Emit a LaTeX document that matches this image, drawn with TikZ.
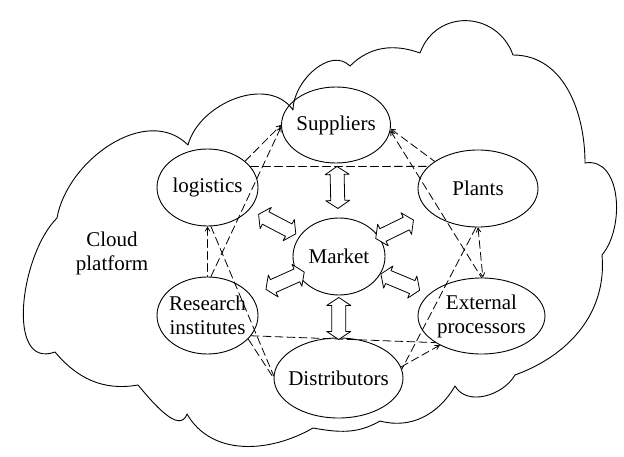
\documentclass[tikz,border=0pt]{standalone}
\usepackage{fontspec}
\setmainfont{Liberation Serif}
\usetikzlibrary{arrows}
\usetikzlibrary{positioning}
\usetikzlibrary{shapes.geometric}
\begin{document}
\begin{tikzpicture}[line cap=round,line join=round,>=angle 60,x=1pt,y=1pt,
  actor/.style={draw,ellipse,line width=0.9pt,inner sep=-8pt,align=center,font=\fontsize{21}{24}\selectfont},
  link/.style={line width=0.8pt,dash pattern=on 8pt off 4pt},
  dblarrow/.pic={\draw [line width=0.8pt,fill=white] (-21,0) -- (-13,12) -- (-13,7) -- (13,7) -- (13,12) -- (21,0)
    -- (13,-12) -- (13,-7) -- (-13,-7) -- (-13,-12) -- cycle;}]
\useasboundingbox (0,0) rectangle (624,456);
\draw [line width=0.9pt] (293,346) to[out=90,in=135] (350,390) to[out=45,in=160] (420,403)
  to[out=70,in=110,looseness=1.3] (513,401) to[out=0,in=90] (585,293) to[out=10,in=50] (602,201)
  to[out=-85,in=20] (515,81) to[out=-120,in=-60] (455,70) to[out=-120,in=-15] (380,35)
  to[out=-150,in=-10] (313,28) to[out=-150,in=-60] (187,42) to[out=-110,in=-50] (138,71)
  to[out=-170,in=-50] (55,104) to[out=-160,in=-135] (57,238) to[out=80,in=135] (188,311)
  to[out=75,in=125] (293,346);
\node[font=\fontsize{21}{24}\selectfont,align=center] (cloud) at (112,203) {Cloud\\platform};
\node[actor,minimum width=109,minimum height=76] (suppliers) at (336,331) {Suppliers};
\node[actor,minimum width=120,minimum height=77] (plants) at (478,267.5) {Plants};
\node[actor,minimum width=101,minimum height=77] (logistics) at (207.5,268.5) {logistics};
\node[actor,minimum width=92,minimum height=77] (market) at (339,199.5) {Market};
\node[actor,minimum width=101,minimum height=77] (research) at (207.5,140.5) {Research\\institutes};
\node[actor,minimum width=127,minimum height=76] (external) at (481.5,140) {External\\processors};
\node[actor,minimum width=129,minimum height=80] (distributors) at (338.5,78) {Distributors};
\draw [link,->] (logistics.35) -- (suppliers.west);
\draw [link,->] (research.85) -- (suppliers.182);
\draw [link] (logistics.26) -- (plants.156);
\draw [link,<-] (suppliers.-4) -- (plants.148);
\draw [link,<-] (suppliers.-6) -- (external.north);
\draw [link,<->] (plants.south) -- (external.88);
\draw [link] (plants.-93) -- (distributors.8);
\draw [link,->] (distributors.10) -- (external.215);
\draw [link] (research.-25) -- (external.210);
\draw [link] (research.-30) -- (distributors.west);
\draw [link] (logistics.-85) -- (distributors.178);
\draw [link,<-] (logistics.south) -- (research.north);
\path (market.center) -- pic[pos=0.525,sloped] {dblarrow} (suppliers.center);
\path (market.center) -- pic[pos=0.51,sloped] {dblarrow} (distributors.center);
\path (market.center) -- pic[pos=0.47,sloped] {dblarrow} (logistics.center);
\path (market.center) -- pic[pos=0.40,sloped] {dblarrow} (plants.center);
\path (market.center) -- pic[pos=0.41,sloped] {dblarrow} (research.center);
\path (market.center) -- pic[pos=0.43,sloped] {dblarrow} (external.center);
\end{tikzpicture}
\end{document}
